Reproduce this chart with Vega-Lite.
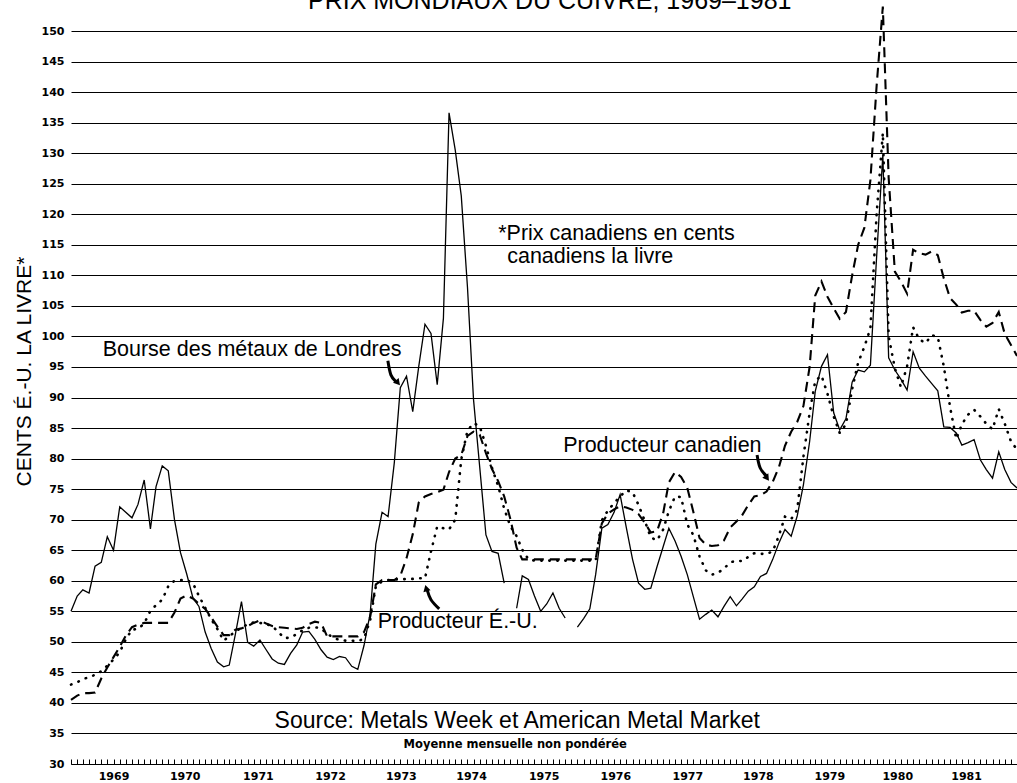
{
  "$schema": "https://vega.github.io/schema/vega-lite/v6.json",
  "width": 946,
  "height": 733,
  "autosize": {"type": "none"},
  "padding": {"left": 71, "top": 31, "right": 0, "bottom": 19},
  "background": "white",
  "config": {"view": {"stroke": null}, "font": "Liberation Sans"},
  "datasets": {
    "prices": [
      {"date":"1969-01-01","lme":55.0,"us":43.0,"can":40.5},
      {"date":"1969-02-01","lme":57.5,"us":43.4,"can":41.2},
      {"date":"1969-03-01","lme":58.5,"us":43.9,"can":41.6},
      {"date":"1969-04-01","lme":58.0,"us":44.2,"can":41.6},
      {"date":"1969-05-01","lme":62.4,"us":44.6,"can":41.7},
      {"date":"1969-06-01","lme":63.0,"us":45.2,"can":44.0},
      {"date":"1969-07-01","lme":67.2,"us":46.1,"can":45.8},
      {"date":"1969-08-01","lme":65.0,"us":47.1,"can":47.5},
      {"date":"1969-09-01","lme":72.1,"us":48.3,"can":49.2},
      {"date":"1969-10-01","lme":71.2,"us":50.4,"can":51.0},
      {"date":"1969-11-01","lme":70.3,"us":52.0,"can":52.4},
      {"date":"1969-12-01","lme":72.5,"us":52.1,"can":52.8},
      {"date":"1970-01-01","lme":76.5,"us":53.0,"can":53.1},
      {"date":"1970-02-01","lme":68.5,"us":55.1,"can":53.1},
      {"date":"1970-03-01","lme":75.4,"us":56.0,"can":53.1},
      {"date":"1970-04-01","lme":78.8,"us":56.9,"can":53.1},
      {"date":"1970-05-01","lme":78.0,"us":59.1,"can":53.1},
      {"date":"1970-06-01","lme":70.0,"us":60.0,"can":54.8},
      {"date":"1970-07-01","lme":64.6,"us":60.1,"can":57.1},
      {"date":"1970-08-01","lme":61.1,"us":60.1,"can":57.6},
      {"date":"1970-09-01","lme":57.2,"us":59.6,"can":57.1},
      {"date":"1970-10-01","lme":55.8,"us":57.5,"can":56.2},
      {"date":"1970-11-01","lme":51.6,"us":55.6,"can":55.4},
      {"date":"1970-12-01","lme":48.9,"us":53.7,"can":54.0},
      {"date":"1971-01-01","lme":46.7,"us":52.1,"can":52.5},
      {"date":"1971-02-01","lme":45.9,"us":50.2,"can":51.1},
      {"date":"1971-03-01","lme":46.2,"us":50.9,"can":51.1},
      {"date":"1971-04-01","lme":51.3,"us":51.7,"can":52.0},
      {"date":"1971-05-01","lme":56.6,"us":52.3,"can":52.2},
      {"date":"1971-06-01","lme":49.9,"us":52.9,"can":52.6},
      {"date":"1971-07-01","lme":49.3,"us":53.2,"can":53.1},
      {"date":"1971-08-01","lme":50.3,"us":53.1,"can":53.5},
      {"date":"1971-09-01","lme":48.7,"us":52.9,"can":53.0},
      {"date":"1971-10-01","lme":47.2,"us":52.6,"can":52.6},
      {"date":"1971-11-01","lme":46.5,"us":51.6,"can":52.4},
      {"date":"1971-12-01","lme":46.3,"us":50.6,"can":52.3},
      {"date":"1972-01-01","lme":48.1,"us":50.7,"can":52.2},
      {"date":"1972-02-01","lme":49.5,"us":51.3,"can":52.1},
      {"date":"1972-03-01","lme":51.6,"us":51.9,"can":52.3},
      {"date":"1972-04-01","lme":51.7,"us":52.3,"can":52.9},
      {"date":"1972-05-01","lme":50.4,"us":52.4,"can":53.3},
      {"date":"1972-06-01","lme":48.7,"us":52.2,"can":53.1},
      {"date":"1972-07-01","lme":47.5,"us":51.3,"can":50.9},
      {"date":"1972-08-01","lme":47.1,"us":50.7,"can":50.9},
      {"date":"1972-09-01","lme":47.6,"us":50.3,"can":50.9},
      {"date":"1972-10-01","lme":47.4,"us":50.2,"can":50.9},
      {"date":"1972-11-01","lme":46.0,"us":50.2,"can":50.9},
      {"date":"1972-12-01","lme":45.5,"us":50.1,"can":50.9},
      {"date":"1973-01-01","lme":49.4,"us":50.5,"can":51.6},
      {"date":"1973-02-01","lme":54.7,"us":53.6,"can":54.1},
      {"date":"1973-03-01","lme":66.0,"us":59.1,"can":59.4},
      {"date":"1973-04-01","lme":71.2,"us":59.9,"can":60.1},
      {"date":"1973-05-01","lme":70.5,"us":60.1,"can":60.1},
      {"date":"1973-06-01","lme":79.3,"us":60.2,"can":60.1},
      {"date":"1973-07-01","lme":91.6,"us":60.2,"can":60.8},
      {"date":"1973-08-01","lme":93.5,"us":60.3,"can":63.7},
      {"date":"1973-09-01","lme":87.7,"us":60.3,"can":67.6},
      {"date":"1973-10-01","lme":95.1,"us":60.4,"can":72.8},
      {"date":"1973-11-01","lme":102.0,"us":60.4,"can":73.8},
      {"date":"1973-12-01","lme":100.5,"us":64.8,"can":74.2},
      {"date":"1974-01-01","lme":92.1,"us":68.9,"can":74.5},
      {"date":"1974-02-01","lme":103.0,"us":68.6,"can":74.9},
      {"date":"1974-03-01","lme":136.6,"us":68.4,"can":77.8},
      {"date":"1974-04-01","lme":130.5,"us":70.0,"can":80.0},
      {"date":"1974-05-01","lme":123.0,"us":79.9,"can":80.6},
      {"date":"1974-06-01","lme":108.0,"us":84.6,"can":83.7},
      {"date":"1974-07-01","lme":89.7,"us":85.8,"can":84.4},
      {"date":"1974-08-01","lme":78.6,"us":85.3,"can":83.9},
      {"date":"1974-09-01","lme":67.5,"us":82.1,"can":80.9},
      {"date":"1974-10-01","lme":64.8,"us":78.5,"can":78.3},
      {"date":"1974-11-01","lme":64.5,"us":75.5,"can":76.3},
      {"date":"1974-12-01","lme":59.6,"us":71.8,"can":73.8},
      {"date":"1975-01-01","lme":null,"us":68.9,"can":70.1},
      {"date":"1975-02-01","lme":55.5,"us":67.3,"can":65.4},
      {"date":"1975-03-01","lme":60.8,"us":65.1,"can":63.5},
      {"date":"1975-04-01","lme":60.2,"us":63.5,"can":63.5},
      {"date":"1975-05-01","lme":57.5,"us":63.3,"can":63.5},
      {"date":"1975-06-01","lme":55.0,"us":63.3,"can":63.5},
      {"date":"1975-07-01","lme":56.2,"us":63.3,"can":63.5},
      {"date":"1975-08-01","lme":58.0,"us":63.3,"can":63.5},
      {"date":"1975-09-01","lme":55.5,"us":63.3,"can":63.5},
      {"date":"1975-10-01","lme":53.9,"us":63.3,"can":63.5},
      {"date":"1975-11-01","lme":null,"us":63.3,"can":63.5},
      {"date":"1975-12-01","lme":52.4,"us":63.3,"can":63.5},
      {"date":"1976-01-01","lme":53.8,"us":63.3,"can":63.5},
      {"date":"1976-02-01","lme":55.4,"us":63.3,"can":63.5},
      {"date":"1976-03-01","lme":61.0,"us":63.3,"can":63.5},
      {"date":"1976-04-01","lme":68.6,"us":69.9,"can":69.4},
      {"date":"1976-05-01","lme":69.2,"us":71.5,"can":71.0},
      {"date":"1976-06-01","lme":71.2,"us":72.7,"can":71.7},
      {"date":"1976-07-01","lme":74.1,"us":73.8,"can":72.2},
      {"date":"1976-08-01","lme":68.7,"us":74.8,"can":72.0},
      {"date":"1976-09-01","lme":63.5,"us":74.5,"can":71.6},
      {"date":"1976-10-01","lme":59.6,"us":72.4,"can":70.9},
      {"date":"1976-11-01","lme":58.6,"us":69.8,"can":69.5},
      {"date":"1976-12-01","lme":58.8,"us":67.1,"can":67.9},
      {"date":"1977-01-01","lme":62.3,"us":66.6,"can":68.1},
      {"date":"1977-02-01","lme":65.6,"us":68.4,"can":71.1},
      {"date":"1977-03-01","lme":68.6,"us":71.4,"can":76.1},
      {"date":"1977-04-01","lme":66.5,"us":73.8,"can":77.8},
      {"date":"1977-05-01","lme":64.0,"us":73.7,"can":77.0},
      {"date":"1977-06-01","lme":61.0,"us":69.2,"can":75.2},
      {"date":"1977-07-01","lme":57.4,"us":67.5,"can":71.3},
      {"date":"1977-08-01","lme":53.7,"us":64.0,"can":67.0},
      {"date":"1977-09-01","lme":54.5,"us":61.7,"can":65.9},
      {"date":"1977-10-01","lme":55.2,"us":61.0,"can":65.7},
      {"date":"1977-11-01","lme":54.1,"us":61.3,"can":65.8},
      {"date":"1977-12-01","lme":55.8,"us":62.0,"can":66.6},
      {"date":"1978-01-01","lme":57.4,"us":63.0,"can":68.7},
      {"date":"1978-02-01","lme":55.9,"us":63.3,"can":69.7},
      {"date":"1978-03-01","lme":57.0,"us":63.2,"can":70.7},
      {"date":"1978-04-01","lme":58.3,"us":63.9,"can":72.4},
      {"date":"1978-05-01","lme":59.0,"us":64.5,"can":73.8},
      {"date":"1978-06-01","lme":60.7,"us":64.4,"can":74.0},
      {"date":"1978-07-01","lme":61.2,"us":64.4,"can":74.6},
      {"date":"1978-08-01","lme":63.5,"us":64.8,"can":76.2},
      {"date":"1978-09-01","lme":66.2,"us":67.4,"can":78.6},
      {"date":"1978-10-01","lme":68.4,"us":70.5,"can":82.1},
      {"date":"1978-11-01","lme":67.3,"us":70.1,"can":84.4},
      {"date":"1978-12-01","lme":70.6,"us":71.6,"can":86.0},
      {"date":"1979-01-01","lme":75.7,"us":80.3,"can":88.6},
      {"date":"1979-02-01","lme":82.8,"us":87.5,"can":95.0},
      {"date":"1979-03-01","lme":91.0,"us":92.7,"can":106.7},
      {"date":"1979-04-01","lme":95.1,"us":93.6,"can":109.0},
      {"date":"1979-05-01","lme":97.0,"us":90.6,"can":106.5},
      {"date":"1979-06-01","lme":87.5,"us":86.9,"can":104.6},
      {"date":"1979-07-01","lme":84.7,"us":84.2,"can":102.9},
      {"date":"1979-08-01","lme":86.5,"us":85.6,"can":104.0},
      {"date":"1979-09-01","lme":92.5,"us":91.4,"can":110.0},
      {"date":"1979-10-01","lme":94.5,"us":95.7,"can":115.0},
      {"date":"1979-11-01","lme":94.2,"us":98.3,"can":117.8},
      {"date":"1979-12-01","lme":95.3,"us":101.3,"can":125.6},
      {"date":"1980-01-01","lme":113.0,"us":120.0,"can":141.0},
      {"date":"1980-02-01","lme":129.7,"us":133.3,"can":154.0},
      {"date":"1980-03-01","lme":96.5,"us":100.0,"can":126.0},
      {"date":"1980-04-01","lme":94.5,"us":94.8,"can":110.6},
      {"date":"1980-05-01","lme":93.0,"us":91.7,"can":109.0},
      {"date":"1980-06-01","lme":91.2,"us":95.1,"can":107.0},
      {"date":"1980-07-01","lme":97.5,"us":101.5,"can":114.2},
      {"date":"1980-08-01","lme":94.8,"us":99.5,"can":113.6},
      {"date":"1980-09-01","lme":93.5,"us":98.9,"can":113.4},
      {"date":"1980-10-01","lme":92.3,"us":100.2,"can":113.9},
      {"date":"1980-11-01","lme":91.1,"us":99.9,"can":113.3},
      {"date":"1980-12-01","lme":85.2,"us":95.1,"can":109.5},
      {"date":"1981-01-01","lme":85.1,"us":88.5,"can":106.3},
      {"date":"1981-02-01","lme":84.2,"us":83.2,"can":105.2},
      {"date":"1981-03-01","lme":82.2,"us":85.6,"can":103.9},
      {"date":"1981-04-01","lme":82.6,"us":87.2,"can":104.2},
      {"date":"1981-05-01","lme":83.1,"us":88.0,"can":104.2},
      {"date":"1981-06-01","lme":79.8,"us":86.9,"can":102.7},
      {"date":"1981-07-01","lme":78.2,"us":85.7,"can":101.6},
      {"date":"1981-08-01","lme":76.8,"us":84.8,"can":102.2},
      {"date":"1981-09-01","lme":81.1,"us":88.1,"can":104.0},
      {"date":"1981-10-01","lme":78.2,"us":85.7,"can":100.4},
      {"date":"1981-11-01","lme":76.1,"us":82.8,"can":98.6},
      {"date":"1981-12-01","lme":75.2,"us":81.5,"can":96.8}
    ],
    "notes": [
      {"date":"1975-07-16","v":153.6,"text":"PRIX MONDIAUX DU CUIVRE, 1969–1981","group":"title"},
      {"date":"1969-06-08","v":96.8,"text":"Bourse des métaux de Londres","group":"label"},
      {"date":"1973-03-10","v":52.3,"text":"Producteur É.-U.","group":"label"},
      {"date":"1975-09-21","v":81.1,"text":"Producteur canadien","group":"label"},
      {"date":"1974-11-01","v":115.8,"text":"*Prix canadiens en cents","group":"label"},
      {"date":"1974-12-16","v":112.0,"text":"canadiens la livre","group":"label"},
      {"date":"1975-02-04","v":35.9,"text":"Source: Metals Week et American Metal Market","group":"source"},
      {"date":"1975-01-25","v":32.65,"text":"Moyenne mensuelle non pondérée","group":"small"}
    ],
    "arrows": [
      {"date":"1973-04-30","v":96.0,"arrow":"lme","o":1},
      {"date":"1973-05-15","v":93.7,"arrow":"lme","o":2},
      {"date":"1973-06-09","v":92.6,"arrow":"lme","o":3},
      {"date":"1974-01-11","v":55.4,"arrow":"us","o":1},
      {"date":"1973-12-01","v":56.9,"arrow":"us","o":2},
      {"date":"1973-11-12","v":58.5,"arrow":"us","o":3},
      {"date":"1978-05-15","v":80.6,"arrow":"can","o":1},
      {"date":"1978-05-30","v":78.5,"arrow":"can","o":2},
      {"date":"1978-06-29","v":77.2,"arrow":"can","o":3}
    ],
    "heads": [
      {"date":"1973-06-19","v":92.4,"arrow":"lme"},
      {"date":"1973-11-07","v":58.8,"arrow":"us"},
      {"date":"1978-07-04","v":76.8,"arrow":"can"}
    ]
  },
  "layer": [
    {
      "data": {"name": "prices"},
      "mark": {"type": "line", "color": "black", "strokeWidth": 1.3, "invalid": "break-paths-show-domains"},
      "encoding": {
        "x": {"field": "date", "type": "temporal",
          "scale": {"type": "utc", "domain": [{"year":1969,"month":1,"date":1,"utc":true},{"year":1981,"month":12,"date":1,"utc":true}]},
          "axis": {"orient": "bottom", "title": null, "labels": false, "grid": false, "domain": true, "domainColor": "black", "domainWidth": 1.2, "ticks": true, "tickColor": "black", "tickWidth": 1, "tickSize": -5, "tickCount": {"interval": "month", "step": 1}}},
        "y": {"field": "lme", "type": "quantitative",
          "scale": {"domain": [30, 150], "nice": false, "zero": false},
          "axis": {"orient": "left", "title": "CENTS É.-U. LA LIVRE*", "values": [30,35,40,45,50,55,60,65,70,75,80,85,90,95,100,105,110,115,120,125,130,135,140,145,150],
            "grid": true, "gridColor": "black", "gridWidth": 1.2, "gridOpacity": 1, "domain": false, "ticks": false,
            "labelFont": "DejaVu Sans", "labelFontWeight": "bold", "labelFontSize": 11, "labelColor": "black", "labelPadding": 7,
            "titleFont": "Liberation Sans", "titleFontSize": 21, "titleFontWeight": "normal", "titleColor": "black",
            "titleX": -41, "titleY": 340, "titleAngle": -90, "titleBaseline": "alphabetic", "titleAlign": "center"}}
      }
    },
    {
      "data": {"name": "prices"},
      "mark": {"type": "line", "color": "black", "strokeWidth": 2.6, "strokeDash": [0.5, 7.5], "strokeCap": "round"},
      "encoding": {
        "x": {"field": "date", "type": "temporal",
          "scale": {"type": "utc", "domain": [{"year":1969,"month":1,"date":1,"utc":true},{"year":1981,"month":12,"date":1,"utc":true}]},
          "axis": {"orient": "bottom", "title": null, "ticks": false, "domain": false, "grid": false,
            "values": [
              {"year":1969,"month":8,"date":1,"utc":true},
              {"year":1970,"month":7,"date":22,"utc":true},
              {"year":1971,"month":7,"date":22,"utc":true},
              {"year":1972,"month":7,"date":16,"utc":true},
              {"year":1973,"month":7,"date":4,"utc":true},
              {"year":1974,"month":6,"date":19,"utc":true},
              {"year":1975,"month":6,"date":16,"utc":true},
              {"year":1976,"month":6,"date":7,"utc":true},
              {"year":1977,"month":6,"date":1,"utc":true},
              {"year":1978,"month":5,"date":19,"utc":true},
              {"year":1979,"month":5,"date":10,"utc":true},
              {"year":1980,"month":4,"date":13,"utc":true},
              {"year":1981,"month":3,"date":22,"utc":true}
            ],
            "labelExpr": "utcFormat(datum.value, '%Y')",
            "labelFont": "DejaVu Sans", "labelFontWeight": "bold", "labelFontSize": 11, "labelColor": "black",
            "labelPadding": 6, "labelFlush": false, "labelOverlap": false}},
        "y": {"field": "us", "type": "quantitative", "scale": {"domain": [30, 150], "nice": false, "zero": false}, "axis": null}
      }
    },
    {
      "data": {"name": "prices"},
      "mark": {"type": "line", "color": "black", "strokeWidth": 2.1, "strokeDash": [10, 6]},
      "encoding": {
        "x": {"field": "date", "type": "temporal", "scale": {"type": "utc"}, "axis": null},
        "y": {"field": "can", "type": "quantitative", "scale": {"domain": [30, 150], "nice": false, "zero": false}, "axis": null}
      }
    },
    {
      "data": {"name": "arrows"},
      "mark": {"type": "line", "color": "black", "strokeWidth": 3, "interpolate": "cardinal"},
      "encoding": {
        "x": {"field": "date", "type": "temporal", "scale": {"type": "utc"}, "axis": null},
        "y": {"field": "v", "type": "quantitative", "axis": null},
        "detail": {"field": "arrow"},
        "order": {"field": "o"}
      }
    },
    {
      "data": {"name": "heads"},
      "transform": [{"filter": "datum.arrow === 'lme'"}],
      "mark": {"type": "point", "shape": "triangle-up", "filled": true, "color": "black", "opacity": 1, "size": 55, "angle": 140},
      "encoding": {
        "x": {"field": "date", "type": "temporal", "scale": {"type": "utc"}, "axis": null},
        "y": {"field": "v", "type": "quantitative", "axis": null}
      }
    },
    {
      "data": {"name": "heads"},
      "transform": [{"filter": "datum.arrow === 'us'"}],
      "mark": {"type": "point", "shape": "triangle-up", "filled": true, "color": "black", "opacity": 1, "size": 55, "angle": 345},
      "encoding": {
        "x": {"field": "date", "type": "temporal", "scale": {"type": "utc"}, "axis": null},
        "y": {"field": "v", "type": "quantitative", "axis": null}
      }
    },
    {
      "data": {"name": "heads"},
      "transform": [{"filter": "datum.arrow === 'can'"}],
      "mark": {"type": "point", "shape": "triangle-up", "filled": true, "color": "black", "opacity": 1, "size": 55, "angle": 145},
      "encoding": {
        "x": {"field": "date", "type": "temporal", "scale": {"type": "utc"}, "axis": null},
        "y": {"field": "v", "type": "quantitative", "axis": null}
      }
    },
    {
      "data": {"name": "notes"},
      "transform": [{"filter": "datum.group === 'title'"}],
      "mark": {"type": "text", "align": "center", "baseline": "alphabetic", "font": "Liberation Sans", "fontSize": 25, "color": "black"},
      "encoding": {
        "x": {"field": "date", "type": "temporal", "scale": {"type": "utc"}, "axis": null},
        "y": {"field": "v", "type": "quantitative", "axis": null},
        "text": {"field": "text"}
      }
    },
    {
      "data": {"name": "notes"},
      "transform": [{"filter": "datum.group === 'label'"}],
      "mark": {"type": "text", "align": "left", "baseline": "alphabetic", "font": "Liberation Sans", "fontSize": 21.5, "color": "black"},
      "encoding": {
        "x": {"field": "date", "type": "temporal", "scale": {"type": "utc"}, "axis": null},
        "y": {"field": "v", "type": "quantitative", "axis": null},
        "text": {"field": "text"}
      }
    },
    {
      "data": {"name": "notes"},
      "transform": [{"filter": "datum.group === 'source'"}],
      "mark": {"type": "text", "align": "center", "baseline": "alphabetic", "font": "Liberation Sans", "fontSize": 23, "color": "black"},
      "encoding": {
        "x": {"field": "date", "type": "temporal", "scale": {"type": "utc"}, "axis": null},
        "y": {"field": "v", "type": "quantitative", "axis": null},
        "text": {"field": "text"}
      }
    },
    {
      "data": {"name": "notes"},
      "transform": [{"filter": "datum.group === 'small'"}],
      "mark": {"type": "text", "align": "center", "baseline": "alphabetic", "font": "DejaVu Sans", "fontWeight": "bold", "fontSize": 11.5, "color": "black"},
      "encoding": {
        "x": {"field": "date", "type": "temporal", "scale": {"type": "utc"}, "axis": null},
        "y": {"field": "v", "type": "quantitative", "axis": null},
        "text": {"field": "text"}
      }
    }
  ],
  "resolve": {"axis": {"x": "independent", "y": "independent"}}
}
